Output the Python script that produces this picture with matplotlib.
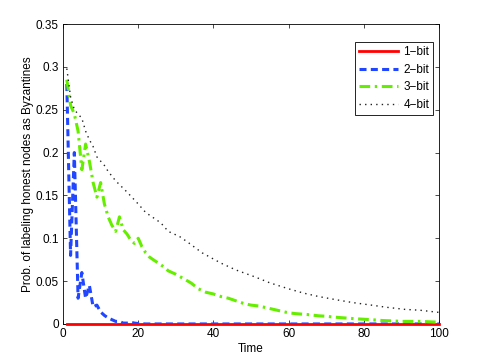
import matplotlib
matplotlib.use("Agg")
import matplotlib.pyplot as plt
import numpy as np

plt.rcParams['font.family'] = ['Liberation Sans', 'DejaVu Sans']

# time axis
t_1bit = [1, 100]
p_1bit = [0.0, 0.0]

t_2bit = [1, 2, 3, 4, 5, 6, 7, 8, 9, 10, 11, 12, 13, 14, 15, 16, 17, 18, 19, 20, 22, 25, 30, 40, 60, 80, 100]
p_2bit = [0.28, 0.08, 0.20, 0.03, 0.06, 0.03, 0.045, 0.02, 0.022, 0.014, 0.01, 0.007, 0.005, 0.003, 0.003,
          0.001, 0.001, 0.002, 0.001, 0.0005, 0.0, 0.0, 0.0, 0.0, 0.0, 0.0, 0.0]

t_3bit = [1, 2, 3, 4, 5, 6, 7, 8, 9, 10, 11, 12, 13, 14, 15, 16, 17, 18, 19, 20, 21, 22, 23, 24, 25,
          26, 27, 28, 29, 30, 32, 34, 36, 38, 40, 42, 44, 46, 48, 50, 52, 55, 58, 60, 62, 65, 68, 70,
          72, 75, 78, 80, 82, 85, 88, 90, 95, 100]
p_3bit = [0.285, 0.255, 0.245, 0.225, 0.18, 0.21, 0.19, 0.165, 0.148, 0.165, 0.14, 0.125, 0.115, 0.108,
          0.125, 0.11, 0.105, 0.098, 0.094, 0.10, 0.09, 0.083, 0.078, 0.075, 0.072, 0.069, 0.066, 0.062,
          0.06, 0.058, 0.053, 0.048, 0.041, 0.037, 0.035, 0.032, 0.03, 0.027, 0.024, 0.022, 0.021, 0.018,
          0.015, 0.013, 0.012, 0.011, 0.0095, 0.009, 0.008, 0.007, 0.006, 0.0055, 0.005, 0.004, 0.0035,
          0.003, 0.003, 0.002]

t_4bit = [1, 2, 3, 4, 5, 6, 7, 8, 9, 10, 11, 12, 14, 17, 20, 22, 26, 28, 31, 33, 37, 42, 46, 51, 55,
          60, 64, 68, 73, 77, 82, 86, 91, 95, 100]
p_4bit = [0.298, 0.265, 0.25, 0.245, 0.24, 0.225, 0.215, 0.207, 0.195, 0.19, 0.185, 0.178, 0.167, 0.154,
          0.14, 0.13, 0.118, 0.108, 0.102, 0.096, 0.083, 0.071, 0.063, 0.055, 0.048, 0.041, 0.036, 0.032,
          0.028, 0.025, 0.022, 0.0195, 0.017, 0.016, 0.0135]

xticks = [0, 20, 40, 60, 80, 100]
yticks = [0, 0.05, 0.1, 0.15, 0.2, 0.25, 0.3, 0.35]
ytick_labels = ['0', '0.05', '0.1', '0.15', '0.2', '0.25', '0.3', '0.35']

fig = plt.figure(figsize=(4.85, 3.64), dpi=100)
ax = fig.add_axes((0.13, 0.11, 0.775, 0.824))

ax.plot(t_1bit, p_1bit, color='#ff0000', lw=2, label='1\u2212bit', clip_on=False, zorder=2.6)
ax.plot(t_2bit, p_2bit, color='#2046ff', lw=2.2, ls=(0, (2.3, 1.4)), label='2\u2212bit', zorder=3)
ax.plot(t_3bit, p_3bit, color='#66ee00', lw=2.2, ls=(0, (3.5, 1.5, 0.8, 1.5)), label='3\u2212bit', zorder=3)
ax.plot(t_4bit, p_4bit, color='#222222', lw=1.0, ls=(0, (1, 3)), label='4\u2212bit', zorder=3)

ax.set_xlim(0, 100)
ax.set_ylim(0, 0.35)
ax.set_xticks(xticks)
ax.set_yticks(yticks)
ax.set_yticklabels(ytick_labels)
ax.tick_params(direction='in', top=True, right=True, labelsize=8.5, length=3, width=0.5, pad=3)
for s in ax.spines.values():
    s.set_linewidth(0.6)

ax.set_xlabel('Time', fontsize=8.5, labelpad=2)
ax.set_ylabel('Prob. of labeling honest nodes as Byzantines', fontsize=8.5, labelpad=1.5)

leg = ax.legend(loc='upper right', bbox_to_anchor=(0.985, 0.94), fontsize=8.5, fancybox=False,
                framealpha=1, edgecolor='black', handlelength=3.3, borderaxespad=0.0,
                labelspacing=0.48, handletextpad=0.45, borderpad=0.35)
leg.get_frame().set_linewidth(0.6)

fig.savefig('out.png', dpi=100)
